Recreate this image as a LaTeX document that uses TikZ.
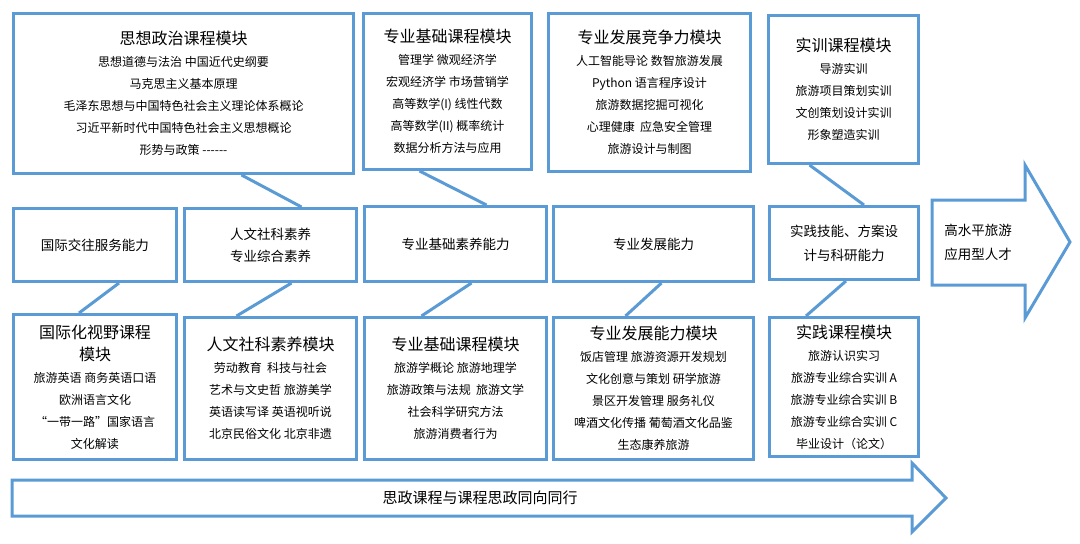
\documentclass[tikz,border=0pt]{standalone}
\usepackage{fontspec}
\setmainfont{Liberation Serif}
\newfontfamily\cjk{Noto Sans CJK SC}
\begin{document}
\begin{tikzpicture}[x=1pt,y=-1pt,
	box/.style={draw={rgb,255:red,91;green,155;blue,213},line width=3pt,anchor=north west,inner sep=0pt,align=center,font=\cjk\fontsize{12}{22}\selectfont},
	link/.style={draw={rgb,255:red,91;green,155;blue,213},line width=3pt},
	big/.style={draw={rgb,255:red,91;green,155;blue,213},line width=3pt,fill=white,line join=miter}]
	\useasboundingbox (0,0) rectangle (1080,544);
	% top row
	\node[box,minimum width=340,minimum height=160] (szzz) at (12,12) {{\fontsize{16}{20}\selectfont 思想政治课程模块}\\思想道德与法治\ 中国近代史纲要\\马克思主义基本原理\\毛泽东思想与中国特色社会主义理论体系概论\\习近平新时代中国特色社会主义思想概论\\形势与政策 ------};
	\node[box,minimum width=168,minimum height=156] (zyjc) at (362,12) {{\fontsize{16}{20}\selectfont 专业基础课程模块}\\管理学\ 微观经济学\\宏观经济学\ 市场营销学\\高等数学(I)\ 线性代数\\高等数学(II)\ 概率统计\\数据分析方法与应用};
	\node[box,minimum width=202,minimum height=158] (zyjz) at (547,12) {{\fontsize{16}{20}\selectfont 专业发展竞争力模块}\\人工智能导论\ 数智旅游发展\\Python 语言程序设计\\旅游数据挖掘可视化\\心理健康\ \ 应急安全管理\\旅游设计与制图};
	\node[box,minimum width=150,minimum height=148] (sxkc) at (767,14) {{\fontsize{16}{20}\selectfont 实训课程模块}\\导游实训\\旅游项目策划实训\\文创策划设计实训\\形象塑造实训};
	% middle row
	\node[box,minimum width=163,minimum height=73,font=\cjk\fontsize{13.5}{22}\selectfont] (gjjw) at (12,207) {国际交往服务能力};
	\node[box,minimum width=172,minimum height=73,font=\cjk\fontsize{13.5}{22}\selectfont] (rwsy) at (183,207) {人文社科素养\\专业综合素养};
	\node[box,minimum width=182,minimum height=75,font=\cjk\fontsize{13.5}{22}\selectfont] (jcsy) at (363,205) {专业基础素养能力};
	\node[box,minimum width=200,minimum height=75,font=\cjk\fontsize{13.5}{22}\selectfont] (fznl) at (552,205) {专业发展能力};
	\node[box,minimum width=149,minimum height=73,font=\cjk\fontsize{13.5}{24}\selectfont] (sjjn) at (768,205) {实践技能、方案设\\计与科研能力};
	% bottom row
	\node[box,minimum width=163,minimum height=145] (gjsy) at (12,313) {{\fontsize{16}{20}\selectfont 国际化视野课程}\\{\fontsize{16}{20}\selectfont 模块}\\旅游英语\ 商务英语口语\\欧洲语言文化\\“一带一路”国家语言\\文化解读};
	\node[box,minimum width=172,minimum height=142] (rwmk) at (183,316) {{\fontsize{16}{20}\selectfont 人文社科素养模块}\\劳动教育\ \ 科技与社会\\艺术与文史哲\ 旅游美学\\英语读写译\ 英语视听说\\北京民俗文化\ 北京非遗};
	\node[box,minimum width=182,minimum height=142] (jcmk) at (363,316) {{\fontsize{16}{20}\selectfont 专业基础课程模块}\\旅游学概论\ 旅游地理学\\旅游政策与法规\ \ 旅游文学\\社会科学研究方法\\旅游消费者行为};
	\node[box,minimum width=200,minimum height=142] (fzmk) at (552,316) {{\fontsize{16}{20}\selectfont 专业发展能力模块}\\饭店管理\ 旅游资源开发规划\\文化创意与策划\ 研学旅游\\景区开发管理\ 服务礼仪\\啤酒文化传播\ 葡萄酒文化品鉴\\生态康养旅游};
	\node[box,minimum width=149,minimum height=139] (sjkc) at (768,316) {{\fontsize{16}{20}\selectfont 实践课程模块}\\旅游认识实习\\旅游专业综合实训 A\\旅游专业综合实训 B\\旅游专业综合实训 C\\毕业设计（论文）};
	% connectors
	\draw[link] ([xshift=58]szzz.south) -- ([xshift=31]rwsy.north);
	\draw[link] ([xshift=-28]zyjc.south) -- ([xshift=31]jcsy.north);
	\draw[link] ([xshift=-34]sxkc.south) -- ([xshift=20]sjjn.north);
	\draw[link] ([xshift=-16]gjsy.north) -- ([xshift=24]gjjw.south);
	\draw[link] ([xshift=-34]rwmk.north) -- ([xshift=21]rwsy.south);
	\draw[link] ([xshift=-34]jcmk.north) -- ([xshift=16]jcsy.south);
	\draw[link] ([xshift=-28]fzmk.north) -- ([xshift=8]fznl.south);
	\draw[link] ([xshift=-38]sjkc.north) -- ([xshift=2]sjjn.south);
	% big arrows
	\draw[big] (932,200) -- (1025,200) -- (1025,165) -- (1070,242) -- (1025,318) -- (1025,285) -- (932,285) -- cycle;
	\node[font=\cjk\fontsize{13.5}{24}\selectfont,align=center] (rc) at (978,242) {高水平旅游\\应用型人才};
	\draw[big] (12,480) -- (912,480) -- (912,463) -- (946,498) -- (912,532) -- (912,516) -- (12,516) -- cycle;
	\node[font=\cjk\fontsize{15}{20}\selectfont] (tx) at (480,498) {思政课程与课程思政同向同行};
\end{tikzpicture}
\end{document}
